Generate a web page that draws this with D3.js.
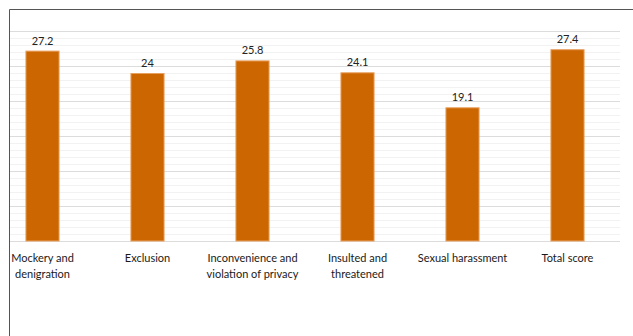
<!DOCTYPE html>
<html>
<head>
<meta charset="utf-8">
<script src="https://cdn.jsdelivr.net/npm/d3@7"></script>
<style>
  html, body { margin: 0; padding: 0; background: #fff; }
  svg { display: block; }
</style>
</head>
<body>
<div id="chart"></div>
<script>
// chart data
const categories = [
  ["Mockery and", "denigration"],
  ["Exclusion"],
  ["Inconvenience and", "violation of privacy"],
  ["Insulted and", "threatened"],
  ["Sexual harassment"],
  ["Total score"]
];
const values = [27.2, 24, 25.8, 24.1, 19.1, 27.4];
const valueLabels = ["27.2", "24", "25.8", "24.1", "19.1", "27.4"];
const majorTicks = [0, 5, 10, 15, 20, 25, 30];
const minorTicks = d3.range(0, 31, 1);

const width = 633, height = 336;
const font = "Lato, 'Open Sans', sans-serif";

const svg = d3.select("#chart").append("svg")
    .attr("width", width)
    .attr("height", height);

const x = d3.scaleBand()
    .domain(d3.range(categories.length))
    .range([-10, 620])
    .paddingInner(0.675)
    .paddingOuter(0.3375);

const y = d3.scaleLinear()
    .domain([0, 30])
    .range([241, 31]);

// gridlines, minor first then major
svg.append("g")
    .selectAll("line")
    .data(minorTicks.filter(d => d % 5 !== 0))
    .join("line")
    .attr("x1", 10).attr("x2", 620)
    .attr("y1", d => y(d) + 0.5).attr("y2", d => y(d) + 0.5)
    .attr("stroke", "#f2f2f2");

svg.append("g")
    .selectAll("line")
    .data(majorTicks)
    .join("line")
    .attr("x1", 10).attr("x2", 620)
    .attr("y1", d => y(d) + 0.5).attr("y2", d => y(d) + 0.5)
    .attr("stroke", "#dcdcdc");

// bars
svg.append("g")
    .selectAll("rect")
    .data(values)
    .join("rect")
    .attr("x", (d, i) => x(i) + 0.5)
    .attr("y", d => y(d) + 0.5)
    .attr("width", x.bandwidth() - 1)
    .attr("height", d => y(0) - y(d) - 0.5)
    .attr("fill", "#cc6600")
    .attr("stroke", "#e8a060")
    .attr("stroke-width", 1);

// value labels
svg.append("g")
    .selectAll("text")
    .data(values)
    .join("text")
    .attr("x", (d, i) => x(i) + x.bandwidth() / 2)
    .attr("y", d => y(d) - 6)
    .attr("text-anchor", "middle")
    .style("font", `11px ${font}`)
    .attr("fill", "#222")
    .text((d, i) => valueLabels[i]);

// category labels
const cat = svg.append("g")
    .selectAll("text")
    .data(categories)
    .join("text")
    .attr("text-anchor", "middle")
    .style("font", `11px ${font}`)
    .attr("fill", "#1a1a1a")
    .attr("transform", (d, i) => `translate(${x(i) + x.bandwidth() / 2},262)`);

cat.selectAll("tspan")
    .data(d => d)
    .join("tspan")
    .attr("x", 0)
    .attr("y", (d, i) => i * 15.5)
    .text(d => d);

// outer frame (top and left edges only)
svg.append("path")
    .attr("d", "M9.5,336V9.5H633")
    .attr("fill", "none")
    .attr("stroke", "#555")
    .attr("stroke-width", 1);
</script>
</body>
</html>
